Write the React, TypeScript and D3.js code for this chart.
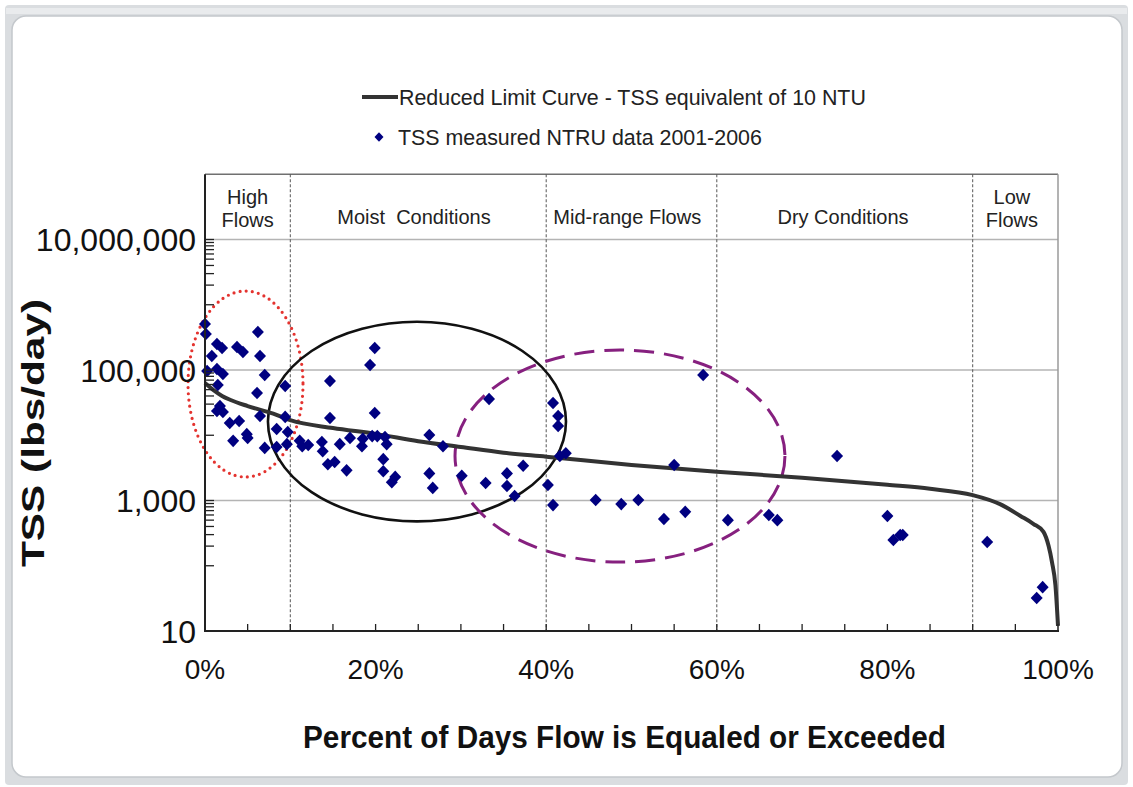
import React from "react";
import * as d3 from "d3";

// ---------- data ----------
const curvePct = [0, 1, 2, 3, 5, 8, 10, 15, 20, 25, 30, 35, 40, 50, 60, 70, 80, 85, 90, 93.2, 95.6, 97.1, 98.3, 98.9, 99.3, 99.7, 100];
const curveTss = [63000, 49000, 40000, 34700, 28000, 21400, 17000, 12900, 10500, 8100, 6600, 5400, 4700, 3500, 2750, 2240, 1740, 1510, 1210, 880, 580, 440, 330, 200, 113, 50, 12];

const obsPct = [
  0.0, 0.1, 1.4, 2.0, 3.75, 4.45, 6.2, 0.8, 6.45, 0.25, 1.4, 2.1, 7.0, 1.5, 6.1, 9.4, 1.75, 1.4, 2.1, 2.9,
  4.0, 6.45, 9.4, 3.3, 4.9, 5.0, 7.0, 8.4, 9.7, 8.4, 9.6, 11.1, 11.4, 12.1, 13.7, 13.8, 14.4, 15.2, 15.8, 16.6,
  17.0, 18.5, 18.4, 19.6, 20.2, 21.1, 21.3, 20.9, 20.9, 22.3, 21.9, 14.65, 14.65, 19.9, 19.35, 19.9, 26.3, 27.9, 26.3, 26.7,
  30.1, 32.9, 33.3, 35.4, 35.4, 37.3, 36.3, 40.2, 40.8, 40.8, 41.4, 41.4, 42.3, 41.6, 45.8, 48.8, 50.8, 53.8, 56.3, 58.4,
  55.0, 61.3, 66.1, 67.1, 74.1, 80.0, 80.7, 81.5, 81.8, 91.7, 98.2, 97.5,
];
const obsTss = [
  507000, 356000, 250000, 217000, 225000, 189000, 382000, 164000, 164000, 96600, 103500, 86900, 83800, 58900, 44400, 56900, 28100, 23500, 22700, 15400,
  16500, 19700, 19100, 8200, 10400, 9100, 6400, 12500, 11200, 6600, 7300, 8200, 6800, 7100, 7900, 5700, 3600, 3900, 7300, 2900,
  9100, 8800, 6800, 9700, 9700, 9400, 7300, 4300, 2800, 2300, 1900, 67800, 18400, 217000, 119000, 21900, 10100, 6800, 2600, 1560,
  2400, 1850, 36000, 2600, 1670, 3400, 1170, 1730, 850, 31200, 19700, 13900, 5300, 4800, 1020, 880, 1020, 520, 670, 83800,
  3500, 500, 600, 500, 4800, 578, 248, 296, 296, 231, 47, 32,
];

const yTickValues = [10, 1000, 100000, 10000000];
const xTickValues = [0, 20, 40, 60, 80, 100];
const zoneBreaks = [10, 40, 60, 90];
const zoneLabels = [
  { lines: ["High", "Flows"], pct: 5 },
  { lines: ["Moist  Conditions"], pct: 24.5 },
  { lines: ["Mid-range Flows"], pct: 49.5 },
  { lines: ["Dry Conditions"], pct: 74.8 },
  { lines: ["Low", "Flows"], pct: 94.6 },
];
// annotation ellipses: center (pct, tss), half-width in pct, half-height in decades
const ellipses = [
  { cx: 4.75, cy: 61000, rx: 6.74, ry: 1.425, kind: "red" },
  { cx: 24.85, cy: 16200, rx: 17.47, ry: 1.53, kind: "black" },
  { cx: 48.65, cy: 4800, rx: 19.34, ry: 1.625, kind: "purple" },
];

const legendLine = "Reduced Limit Curve - TSS equivalent of 10 NTU";
const legendPts = "TSS measured NTRU data 2001-2006";

// ---------- layout ----------
const W = 1133, H = 787;
const L = 205, R = 1058, T = 174.25, B = 631;
const FONT = "Arial, 'Liberation Sans', Helvetica, sans-serif";

const x = d3.scaleLinear().domain([0, 100]).range([L, R]);
const y = d3.scaleLog().domain([10, 1e8]).range([B, T]);
const decadePx = (B - T) / 7;

const fmt = d3.format(",");

function diamond(cx: number, cy: number, r: number) {
  return `M${cx},${cy - r * 1.05}L${cx + r},${cy}L${cx},${cy + r * 1.05}L${cx - r},${cy}Z`;
}

export default function App() {
  const line = d3
    .line<number>()
    .x((_, i) => x(curvePct[i]))
    .y((d) => y(d))
    .curve(d3.curveMonotoneX);

  const minorTicks: number[] = [];
  [2, 4, 6].forEach((k) => {
    for (let m = 1; m <= 10; m++) minorTicks.push(m * Math.pow(10, k));
  });
  const xMinor = d3.range(0, 101, 5);

  const ellStyle: Record<string, any> = {
    red: { stroke: "#e4332f", strokeWidth: 3.2, strokeDasharray: "0 6.2", strokeLinecap: "round" },
    black: { stroke: "#111", strokeWidth: 2.6 },
    purple: { stroke: "#86207f", strokeWidth: 3, strokeDasharray: "20 10" },
  };

  return (
    <svg width={W} height={H} style={{ position: "absolute", left: 0, top: 0 }} fontFamily={FONT}>
      {/* window frame */}
      <rect x={0} y={0} width={W} height={H} fill="#ffffff" />
      <rect x={5} y={5} width={1123} height={780} rx={4} fill="#dadde0" />
      <rect x={6} y={8} width={1121} height={6} fill="#e9ebed" />
      <rect x={12} y={16} width={1110} height={761} rx={14} fill="#ffffff" stroke="#c4c8cc" strokeWidth={1.5} />

      {/* legend */}
      <line x1={362} x2={398} y1={97} y2={97} stroke="#333" strokeWidth={4} />
      <text x={399} y={104.5} fontSize={21.4} fill="#222">{legendLine}</text>
      <path d={diamond(379, 137, 4.5)} fill="#000080" />
      <text x={398} y={144.5} fontSize={21.4} fill="#222">{legendPts}</text>

      {/* gridlines */}
      {[1000, 100000, 10000000].map((v) => (
        <line key={v} x1={L} x2={R} y1={y(v)} y2={y(v)} stroke="#b4b4b4" strokeWidth={1.5} />
      ))}
      {/* plot border top/right */}
      <line x1={L} x2={R} y1={T} y2={T} stroke="#707070" strokeWidth={1.5} />
      <line x1={R} x2={R} y1={T} y2={B} stroke="#9a9a9a" strokeWidth={1.5} />

      {/* zone dividers */}
      {zoneBreaks.map((p) => (
        <line key={p} x1={x(p)} x2={x(p)} y1={T} y2={B} stroke="#555" strokeWidth={1} strokeDasharray="3 2" />
      ))}
      {/* zone labels */}
      {zoneLabels.map((z, i) => (
        <text key={i} x={x(z.pct)} textAnchor="middle" fontSize={20} fill="#222" style={{ whiteSpace: "pre" }}>
          {z.lines.length === 2 ? (
            <>
              <tspan x={x(z.pct)} y={204}>{z.lines[0]}</tspan>
              <tspan x={x(z.pct)} y={227}>{z.lines[1]}</tspan>
            </>
          ) : (
            <tspan x={x(z.pct)} y={224}>{z.lines[0]}</tspan>
          )}
        </text>
      ))}

      {/* ellipses */}
      {ellipses.map((e, i) => (
        <ellipse
          key={i}
          cx={x(e.cx)}
          cy={y(e.cy)}
          rx={x(e.rx) - x(0)}
          ry={e.ry * decadePx}
          fill="none"
          {...ellStyle[e.kind]}
        />
      ))}

      {/* limit curve */}
      <path d={line(curveTss) || ""} fill="none" stroke="#333" strokeWidth={4} strokeLinejoin="round" />

      {/* observations */}
      {obsPct.map((p, i) => (
        <path key={i} d={diamond(x(p), y(obsTss[i]), 6)} fill="#000080" />
      ))}

      {/* axes */}
      <line x1={L} x2={L} y1={T} y2={B + 1} stroke="#222" strokeWidth={2} />
      <line x1={L - 1} x2={R + 1} y1={B} y2={B} stroke="#222" strokeWidth={2} />
      {minorTicks.map((v) => (
        <line key={v} x1={L} x2={L + 9} y1={y(v)} y2={y(v)} stroke="#222" strokeWidth={1.3} />
      ))}
      {xMinor.map((p) => (
        <line key={p} x1={x(p)} x2={x(p)} y1={B} y2={B - 7} stroke="#222" strokeWidth={1.3} />
      ))}

      {/* tick labels */}
      {yTickValues.map((v) => (
        <text key={v} x={196} y={y(v) + 11.5} textAnchor="end" fontSize={32} fill="#111">
          {fmt(v)}
        </text>
      ))}
      {xTickValues.map((p) => (
        <text key={p} x={x(p)} y={679} textAnchor="middle" fontSize={28} fill="#111">
          {p}%
        </text>
      ))}

      {/* axis titles */}
      <text
        x={624.5}
        y={748}
        textAnchor="middle"
        fontSize={31}
        fontWeight="bold"
        fill="#111"
        textLength={643}
        lengthAdjust="spacingAndGlyphs"
      >
        Percent of Days Flow is Equaled or Exceeded
      </text>
      <text
        transform="translate(44,433) rotate(-90)"
        textAnchor="middle"
        fontSize={32}
        fontWeight="bold"
        fill="#111"
        textLength={268}
        lengthAdjust="spacingAndGlyphs"
      >
        TSS (lbs/day)
      </text>
    </svg>
  );
}
